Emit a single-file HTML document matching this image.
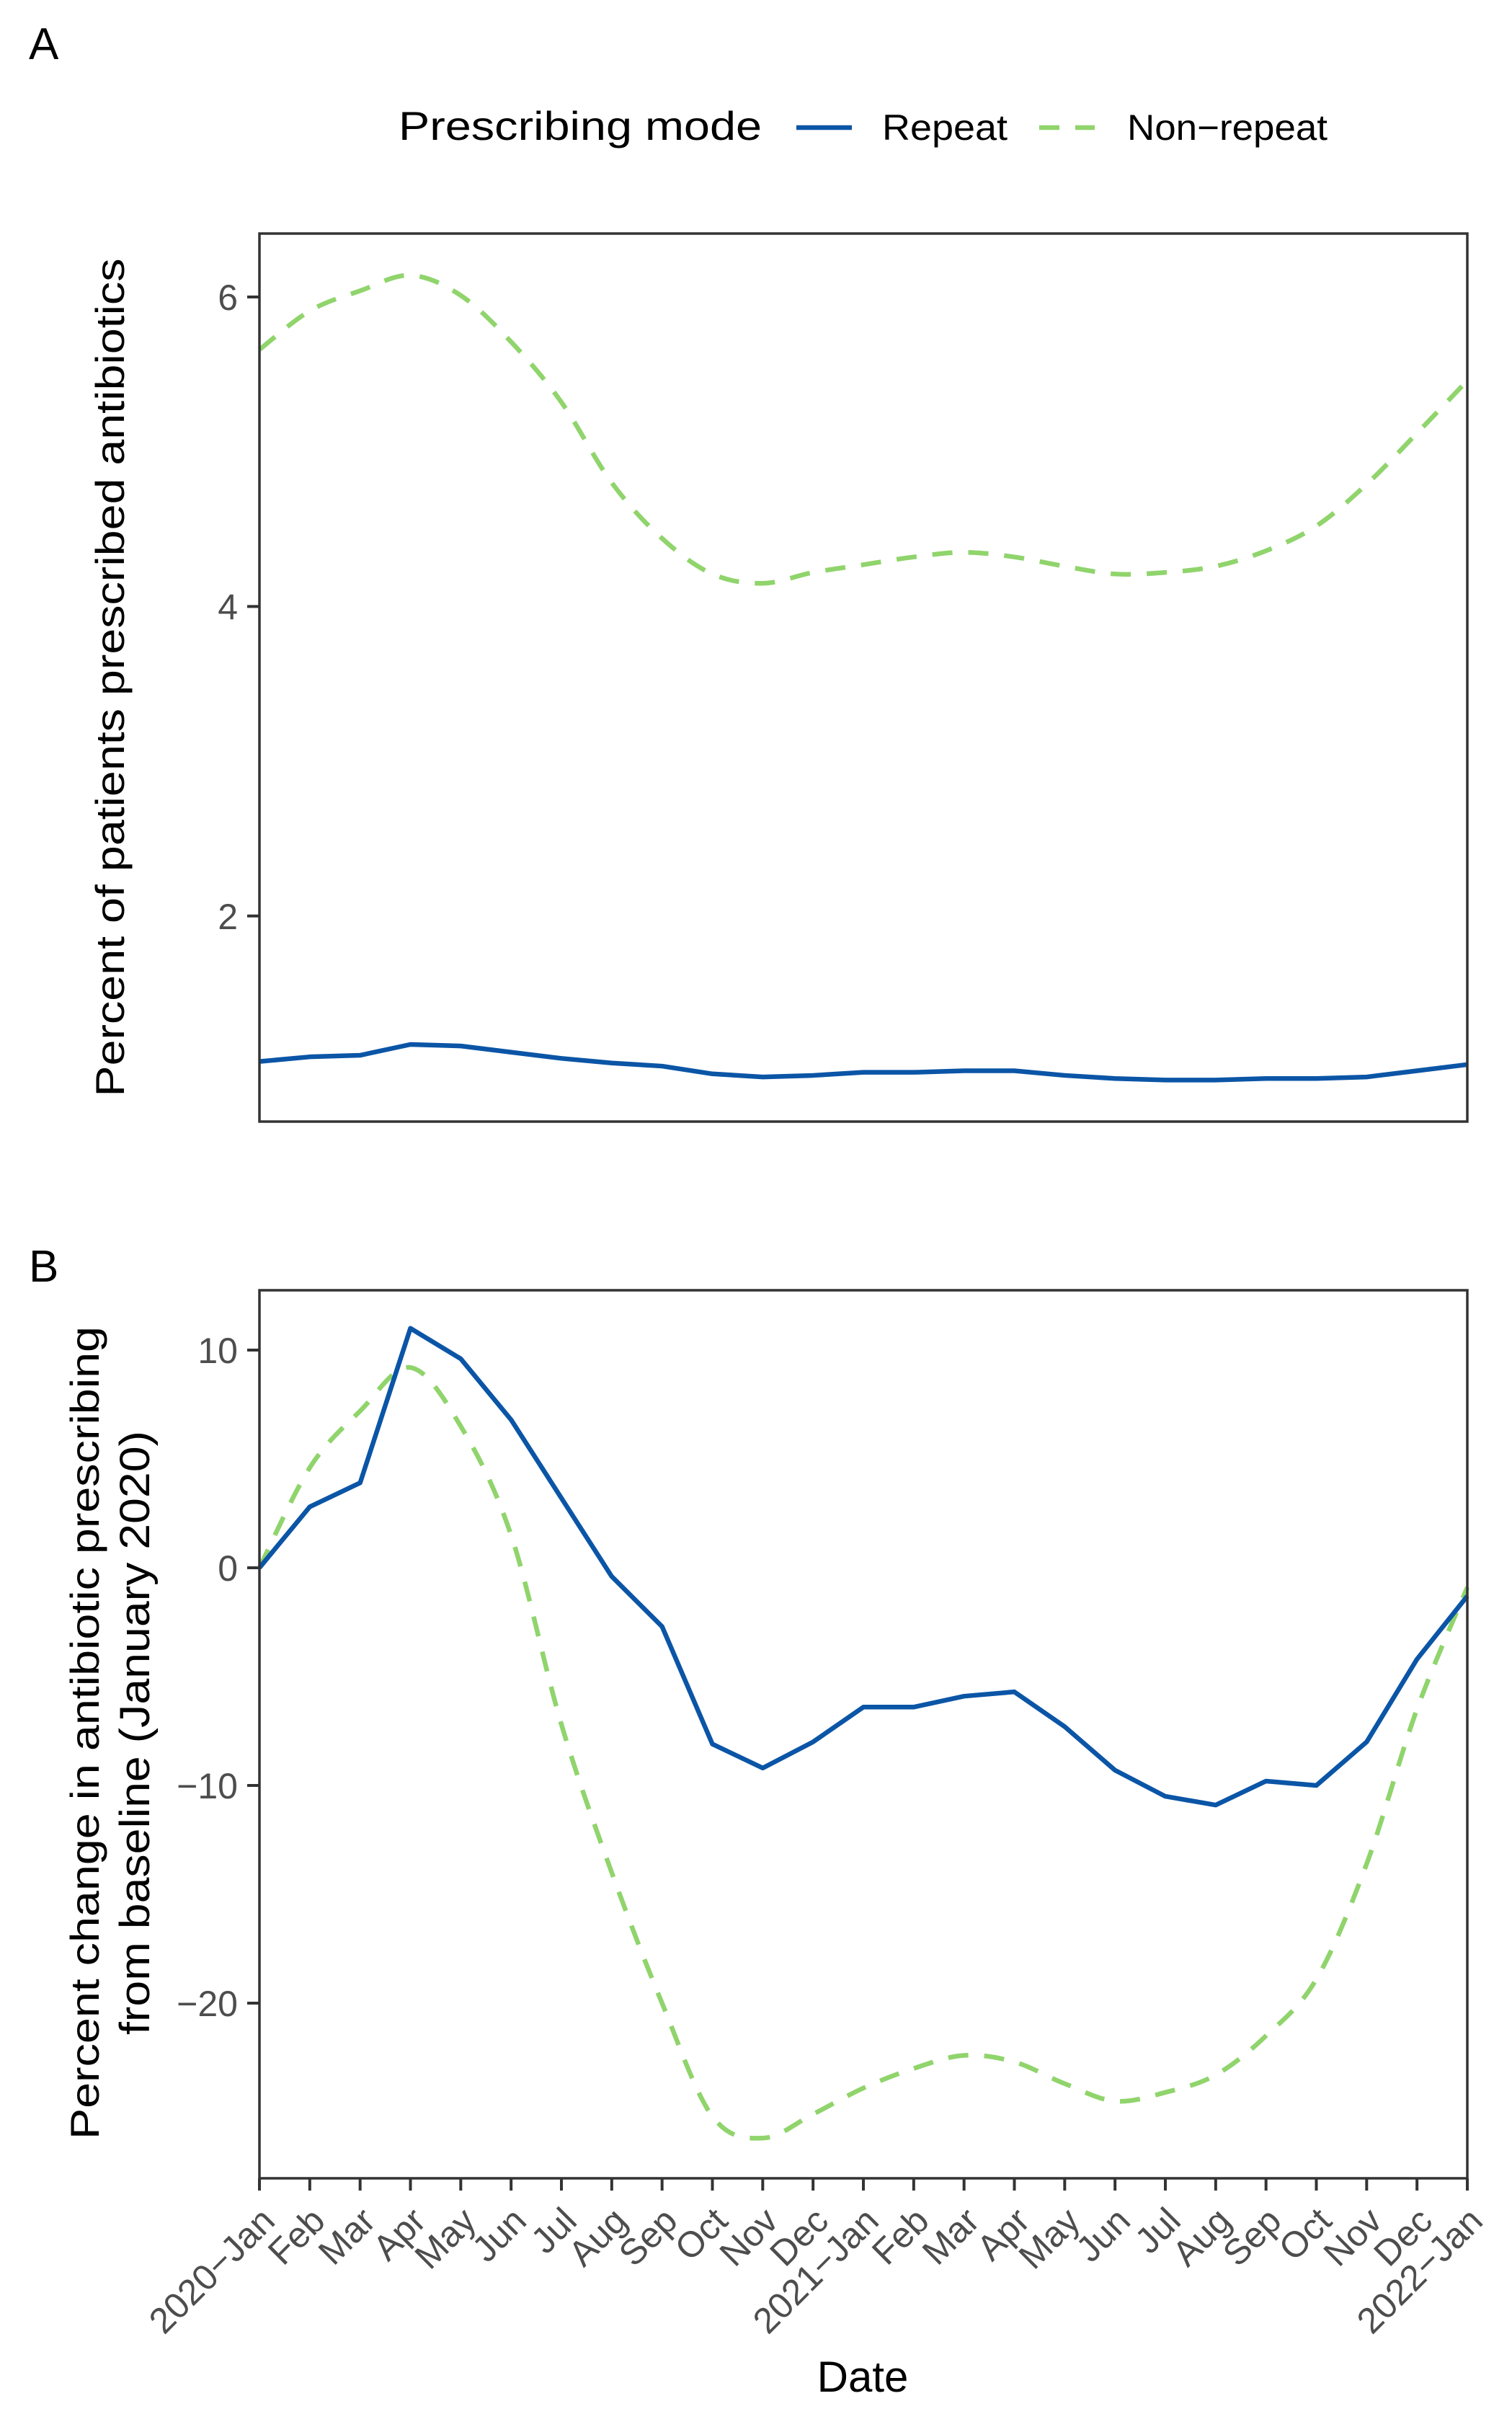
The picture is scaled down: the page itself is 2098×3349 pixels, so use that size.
<!DOCTYPE html>
<html><head><meta charset="utf-8"><style>
html,body{margin:0;padding:0;background:#fff;}
svg{display:block;font-family:"Liberation Sans",Arial,sans-serif;}
</style></head><body>
<svg id="chart" width="2098" height="3349" viewBox="0 0 2098 3349" xmlns="http://www.w3.org/2000/svg">
<rect width="2098" height="3349" fill="#fff"/>
<text x="40" y="82" font-size="62" fill="#000">A</text>
<text x="40" y="1778" font-size="62" fill="#000">B</text>
<g>
<text x="553" y="194" font-size="56" textLength="504" lengthAdjust="spacingAndGlyphs">Prescribing mode</text>
<line x1="1105" y1="177" x2="1182" y2="177" stroke="#0b55a6" stroke-width="6.5"/>
<text x="1224" y="194" font-size="50" textLength="174" lengthAdjust="spacingAndGlyphs">Repeat</text>
<line x1="1442" y1="177" x2="1519" y2="177" stroke="#90d46c" stroke-width="6.5" stroke-dasharray="28 22"/>
<text x="1564" y="194" font-size="50" textLength="278" lengthAdjust="spacingAndGlyphs">Non−repeat</text>
</g>
<g id="pa"></g>
<g id="pb"></g>
<text x="1197" y="3318" font-size="60" text-anchor="middle">Date</text>
</svg>
<script>
const months = ["2020−Jan","Feb","Mar","Apr","May","Jun","Jul","Aug","Sep","Oct","Nov","Dec","2021−Jan","Feb","Mar","Apr","May","Jun","Jul","Aug","Sep","Oct","Nov","Dec","2022−Jan"];
const aRepeat = [1.06,1.09,1.10,1.17,1.16,1.12,1.08,1.05,1.03,0.98,0.96,0.97,0.99,0.99,1.00,1.00,0.97,0.95,0.94,0.94,0.95,0.95,0.96,1.00,1.04];
const aNonRepeat = [5.66,5.91,6.04,6.14,6.01,5.71,5.32,4.80,4.44,4.21,4.15,4.22,4.27,4.32,4.35,4.32,4.26,4.21,4.22,4.26,4.36,4.52,4.79,5.12,5.46];
const bRepeat = [0,2.8,3.9,11.0,9.6,6.8,3.2,-0.4,-2.7,-8.1,-9.2,-8.0,-6.4,-6.4,-5.9,-5.7,-7.3,-9.3,-10.5,-10.9,-9.8,-10.0,-8.0,-4.2,-1.3];
const bNonRepeat = [0,4.6,7.2,9.2,6.5,1.5,-7.2,-14.0,-20.0,-25.2,-26.2,-25.1,-23.9,-23.0,-22.4,-22.7,-23.7,-24.5,-24.1,-23.3,-21.5,-18.9,-13.6,-6.5,-0.9];
const aTicks = [2,4,6];
const bTicks = [-20,-10,0,10];

const NS="http://www.w3.org/2000/svg";
const L=360,R=2036;
function x(i){return L+(R-L)*i/(months.length-1);}
function ya(v){return 412+(6-v)*214.7;}
function yb(v){return 2175-v*30.2;}
function mk(p,t,at){const e=document.createElementNS(NS,t);for(const k in at)e.setAttribute(k,at[k]);p.appendChild(e);return e;}
function smooth(vals,yf){
  const pts=vals.map((v,i)=>[x(i),yf(v)]);
  let d="M"+pts[0][0]+","+pts[0][1];
  for(let i=0;i<pts.length-1;i++){
    const p0=pts[Math.max(0,i-1)],p1=pts[i],p2=pts[i+1],p3=pts[Math.min(pts.length-1,i+2)];
    const c1=[p1[0]+(p2[0]-p0[0])/6,p1[1]+(p2[1]-p0[1])/6];
    const c2=[p2[0]-(p3[0]-p1[0])/6,p2[1]-(p3[1]-p1[1])/6];
    d+=" C"+c1+" "+c2+" "+p2;
  }
  return d;
}
function straight(vals,yf){return vals.map((v,i)=>(i?"L":"M")+x(i)+","+yf(v)).join(" ");}

function panel(g,top,bottom,ticks,yf,rep,non){
  for(const t of ticks){
    const tk=mk(g,'line',{x1:343,x2:360,y1:yf(t),y2:yf(t),stroke:'#333','stroke-width':4});
    
    
    const lb=mk(g,'text',{x:330,y:yf(t)+18,'font-size':50,fill:'#4d4d4d','text-anchor':'end'});
    lb.textContent=(t<0?'−'+Math.abs(t):String(t));
    
    
  }
  const pn=mk(g,'path',{d:smooth(non,yf),fill:'none',stroke:'#90d46c','stroke-width':6.5,'stroke-dasharray':'28 22'});
  
  
  const pr=mk(g,'path',{d:straight(rep,yf),fill:'none',stroke:'#0b55a6','stroke-width':6.5,'stroke-linejoin':'round'});
  
  
  const bx=mk(g,'rect',{x:L,y:top,width:R-L,height:bottom-top,fill:'none',stroke:'#333','stroke-width':3.5});
  
  
}
const pa=document.getElementById('pa'),pb=document.getElementById('pb');
panel(pa,324,1556,aTicks,ya,aRepeat,aNonRepeat);
panel(pb,1790,3022,bTicks,yb,bRepeat,bNonRepeat);

months.forEach((m,i)=>{
  const tk=mk(pb,'line',{x1:x(i),x2:x(i),y1:3022,y2:3039,stroke:'#333','stroke-width':4});
  
  
  const tx=x(i)+24,ty=3084;
  const lb=mk(pb,'text',{x:tx,y:ty,'font-size':50,fill:'#4d4d4d','text-anchor':'end',transform:'rotate(-45 '+tx+' '+ty+')'});
  lb.textContent=m;
  
  
});

const s=document.getElementById('chart');
const ta=mk(s,'text',{x:0,y:0,'font-size':56,'text-anchor':'middle',transform:'translate(172 940) rotate(-90)',textLength:1163,lengthAdjust:'spacingAndGlyphs'});
ta.textContent='Percent of patients prescribed antibiotics';


const tb1=mk(s,'text',{x:0,y:0,'font-size':56,'text-anchor':'middle',transform:'translate(137 2404) rotate(-90)',textLength:1128,lengthAdjust:'spacingAndGlyphs'});
tb1.textContent='Percent change in antibiotic prescribing';


const tb2=mk(s,'text',{x:0,y:0,'font-size':58,'text-anchor':'middle',transform:'translate(207 2404) rotate(-90)',textLength:838,lengthAdjust:'spacingAndGlyphs'});
tb2.textContent='from baseline (January 2020)';


</script>
</body></html>
